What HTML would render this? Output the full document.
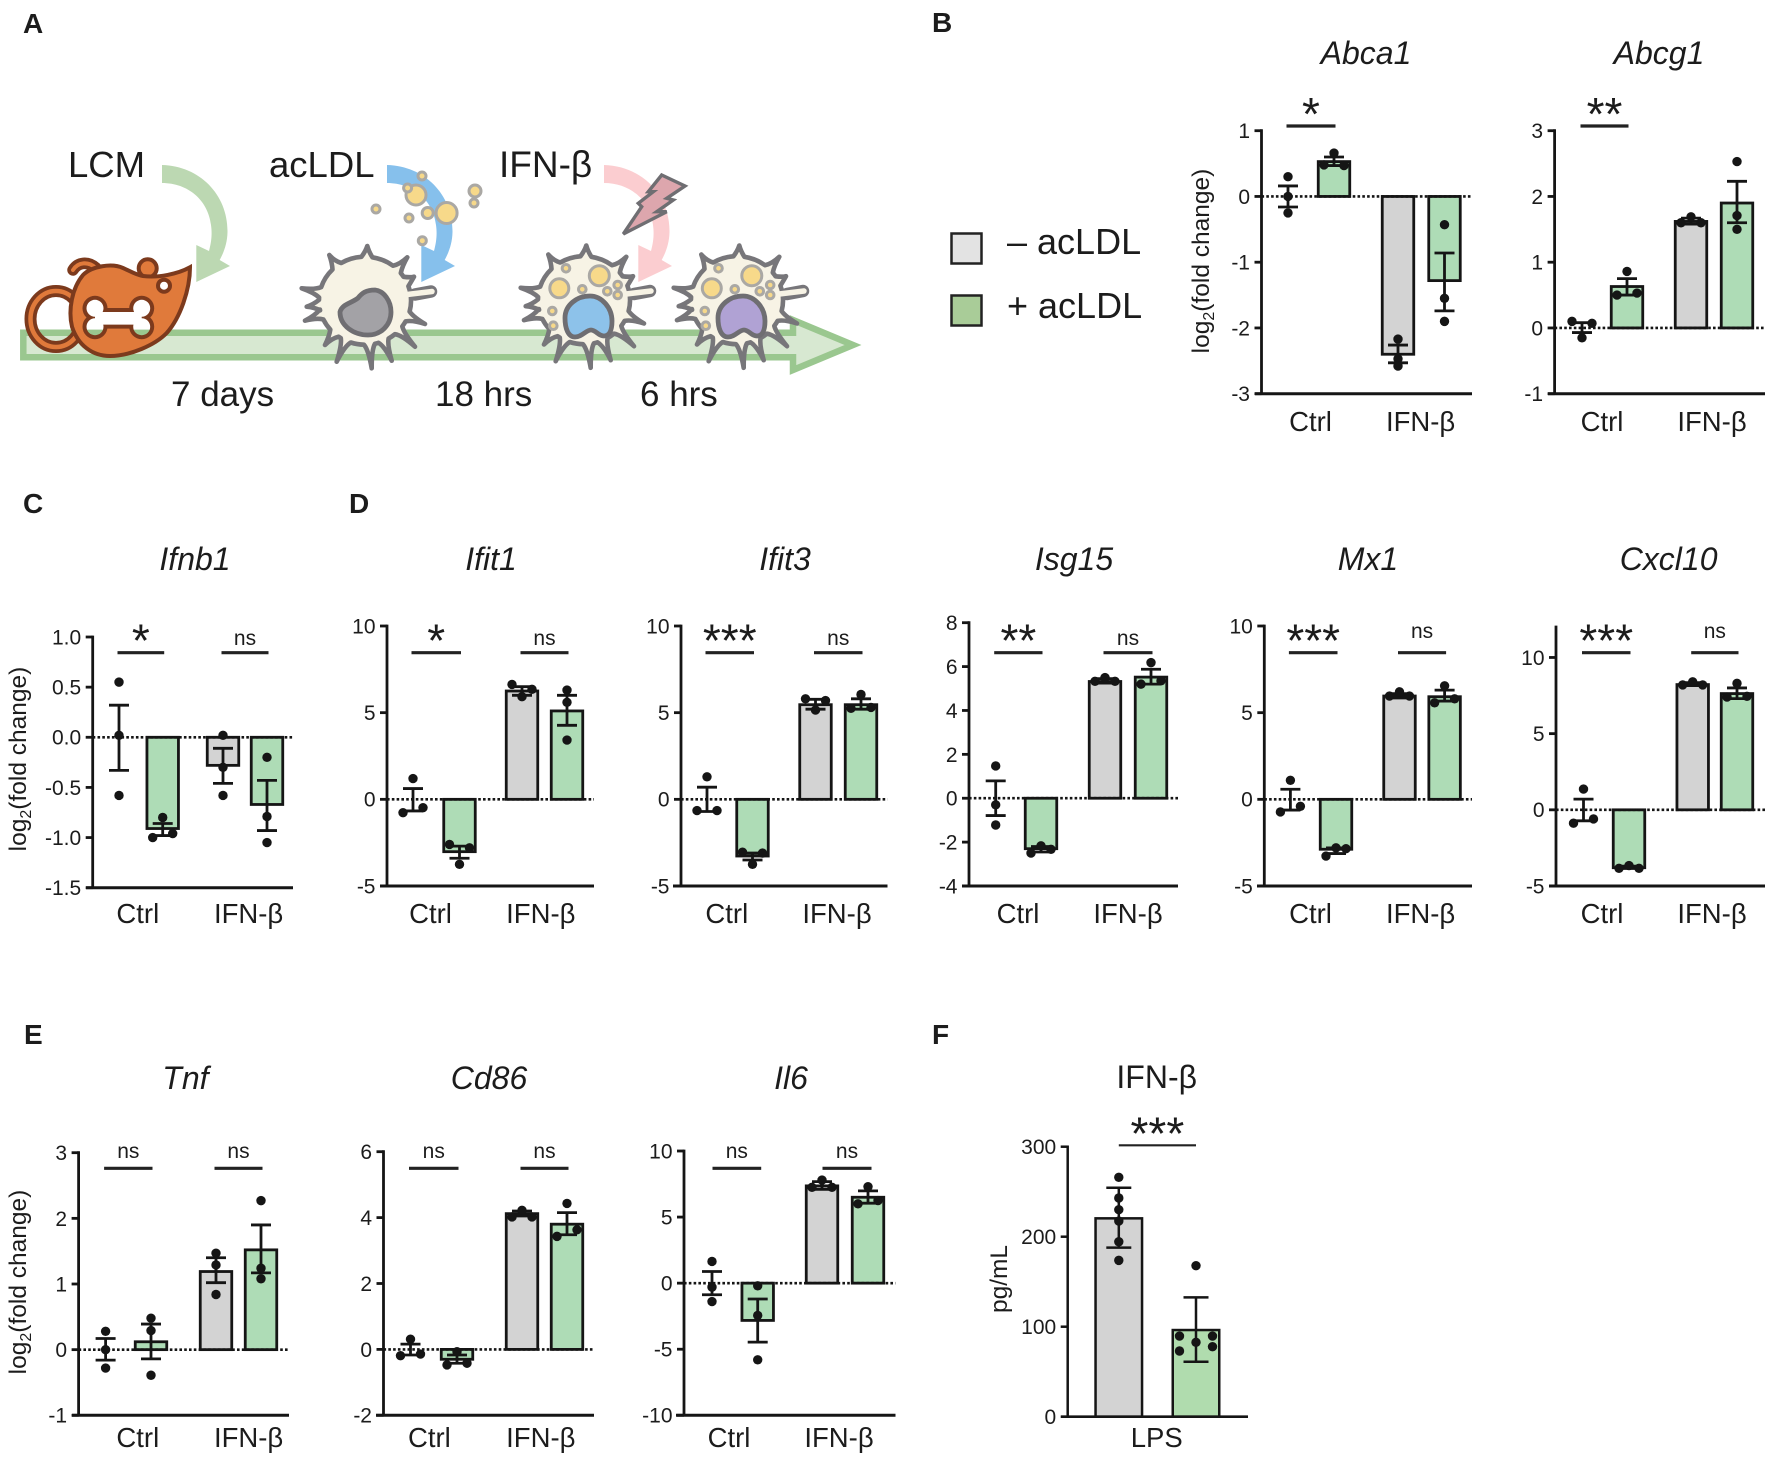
<!DOCTYPE html>
<html lang="en">
<head>
<meta charset="utf-8">
<title>acLDL and IFN-β gene expression figure</title>
<style>
html,body{margin:0;padding:0;background:#fff;}
svg{display:block;}
text{font-family:"Liberation Sans",Arial,sans-serif;fill:#1c1c1c;}
</style>
</head>
<body>
<svg id="figure" xmlns="http://www.w3.org/2000/svg" width="1772" height="1460" viewBox="0 0 1772 1460">
  <defs>
    <clipPath id="bone-clip">
      <circle cx="95" cy="308.3" r="8.5"/><circle cx="95" cy="326.7" r="8.5"/>
      <circle cx="141.7" cy="308.3" r="8.5"/><circle cx="141.7" cy="326.7" r="8.5"/>
      <rect x="95" y="312" width="46.7" height="12.6"/>
    </clipPath>
  </defs>
  <rect width="1772" height="1460" fill="#fff"/>
  <g font-weight="bold" font-size="28">
    <text x="23" y="33">A</text>
    <text x="932" y="32">B</text>
    <text x="23" y="513">C</text>
    <text x="349" y="513">D</text>
    <text x="24" y="1044">E</text>
    <text x="932" y="1044">F</text>
  </g>

  <g id="schematic">
    <polygon points="23.3,332.7 793,332.7 793,320 853,345 793,370 793,357.3 23.3,357.3" fill="#d7e8d1" stroke="#9ac78f" stroke-width="6.5"/>

    <path d="M162,165 C200,166 228,195 227.5,232 C227.3,243 224,252 219.7,260 L230,266 L196.3,282 L196.3,245 L209,251 C212,240 212,232 211,225 C208,200 188,183 162,183 Z" fill="#bcd8b2"/>
    <path transform="translate(225 0)" d="M162,165 C200,166 228,195 227.5,232 C227.3,243 224,252 219.7,260 L230,266 L196.3,282 L196.3,245 L209,251 C212,240 212,232 211,225 C208,200 188,183 162,183 Z" fill="#86c0ec"/>
    <path transform="translate(442 0)" d="M162,165 C200,166 228,195 227.5,232 C227.3,243 224,252 219.7,260 L230,266 L196.3,282 L196.3,245 L209,251 C212,240 212,232 211,225 C208,200 188,183 162,183 Z" fill="#fbcdd0"/>

    <g>
      <ellipse cx="56" cy="319" rx="25.5" ry="28" fill="none" stroke="#7c3a1d" stroke-width="12"/>
      <ellipse cx="56" cy="319" rx="25.5" ry="28" fill="none" stroke="#e07a3b" stroke-width="4.5"/>
      <path d="M96,268 C88,261 78,262 73,270" fill="none" stroke="#7c3a1d" stroke-width="11.5" stroke-linecap="round"/>
      <path d="M96,268 C88,261 78,262 73,270" fill="none" stroke="#e07a3b" stroke-width="4" stroke-linecap="round"/>
      <circle cx="147.7" cy="268.3" r="9" fill="#e07a3b" stroke="#7c3a1d" stroke-width="4"/>
      <path d="M190,267.3 C190,290 180,318 166.7,333 C155,345 130,356 110,356 C92,356 78,345 72,326.7 C68,310 72,288 83,275 C92,266 112,263 123,268 C130,271 136,275 143,276 C158,278 178,274 190,267.3 Z" fill="#e07a3b" stroke="#7c3a1d" stroke-width="4"/>
      <circle cx="164" cy="285.7" r="6" fill="#fff" stroke="#7c3a1d" stroke-width="4"/>
      <g>
        <g fill="#7c3a1d">
          <circle cx="95" cy="308.3" r="12.5"/><circle cx="95" cy="326.7" r="12.5"/>
          <circle cx="141.7" cy="308.3" r="12.5"/><circle cx="141.7" cy="326.7" r="12.5"/>
          <rect x="95" y="308" width="46.7" height="20.6"/>
        </g>
        <g clip-path="url(#bone-clip)">
          <rect x="80" y="295" width="80" height="35" fill="#fff"/>
          <rect x="80" y="329.6" width="80" height="10" fill="#9ac78f"/>
        </g>
      </g>
    </g>

    <g>
      <path class="cell-body" fill="#f7f3e5" stroke="#77767a" stroke-width="4.6" stroke-linejoin="round"/>
      <path d="M415,294.5 L431,291.5" fill="none" stroke="#77767a" stroke-width="12.5" stroke-linecap="round"/>
      <path d="M403,295 L432,291.5" fill="none" stroke="#f7f3e5" stroke-width="5.5" stroke-linecap="round"/>
      <path d="M340,312 C342,304 352,303 358,298 C362,293 366,290 375,290 C384,291 391,301 391,312 C391,325 381,335 368,335 C354,335 340,326 340,312 Z" fill="#a3a2a6" stroke="#6f6e72" stroke-width="4.8"/>
    </g>
    <g transform="translate(219 -0.5)">
      <path class="cell-body" fill="#f7f3e5" stroke="#77767a" stroke-width="4.6" stroke-linejoin="round"/>
      <path d="M415,294.5 L431,291.5" fill="none" stroke="#77767a" stroke-width="12.5" stroke-linecap="round"/>
      <path d="M403,295 L432,291.5" fill="none" stroke="#f7f3e5" stroke-width="5.5" stroke-linecap="round"/>
    </g>
    <g transform="translate(372 -0.5)">
      <path class="cell-body" fill="#f7f3e5" stroke="#77767a" stroke-width="4.6" stroke-linejoin="round"/>
      <path d="M415,294.5 L431,291.5" fill="none" stroke="#77767a" stroke-width="12.5" stroke-linecap="round"/>
      <path d="M403,295 L432,291.5" fill="none" stroke="#f7f3e5" stroke-width="5.5" stroke-linecap="round"/>
    </g>
    <path d="M565,318 C565,305 577,296 590,296 C602,296 612,308 612,321 C612,331 609,336 604,336 C598,336 596,330 591,330 C586,330 582,337 575,337 C568,337 565,328 565,318Z" fill="#8dc2ea" stroke="#6f6e72" stroke-width="4.8"/>
    <path transform="translate(153 0)" d="M565,318 C565,305 577,296 590,296 C602,296 612,308 612,321 C612,331 609,336 604,336 C598,336 596,330 591,330 C586,330 582,337 575,337 C568,337 565,328 565,318Z" fill="#b0a2d4" stroke="#6f6e72" stroke-width="4.8"/>

    <g fill="#f7d98a" stroke="#aaa8a4" stroke-width="3">
      <circle cx="422" cy="176" r="4"/><circle cx="416" cy="195" r="10"/><circle cx="407.6" cy="188" r="4"/>
      <circle cx="446.6" cy="213" r="10.5"/><circle cx="427.7" cy="213" r="5.5"/><circle cx="475" cy="191" r="6"/>
      <circle cx="474" cy="203" r="4"/><circle cx="376" cy="209" r="4"/><circle cx="409" cy="218" r="4"/>
      <circle cx="422.3" cy="240.7" r="4"/>
    </g>
    <g fill="#f7d98a" stroke="#aaa8a4" stroke-width="3">
      <circle cx="559.3" cy="288.3" r="9.5"/><circle cx="599.3" cy="275.7" r="10"/><circle cx="566" cy="268.3" r="3.8"/>
      <circle cx="582.3" cy="289.3" r="3.8"/><circle cx="617.7" cy="285" r="3.8"/><circle cx="607.3" cy="291.3" r="3.8"/>
      <circle cx="617.7" cy="295" r="3.8"/><circle cx="552.3" cy="311" r="3.8"/><circle cx="553.3" cy="325.7" r="3.8"/>
    </g>
    <g transform="translate(152.5 0)" fill="#f7d98a" stroke="#aaa8a4" stroke-width="3">
      <circle cx="559.3" cy="288.3" r="9.5"/><circle cx="599.3" cy="275.7" r="10"/><circle cx="566" cy="268.3" r="3.8"/>
      <circle cx="582.3" cy="289.3" r="3.8"/><circle cx="617.7" cy="285" r="3.8"/><circle cx="607.3" cy="291.3" r="3.8"/>
      <circle cx="617.7" cy="295" r="3.8"/><circle cx="552.3" cy="311" r="3.8"/><circle cx="553.3" cy="325.7" r="3.8"/>
    </g>
    <polygon points="661.7,175 685,186 666.7,198.3 673.3,200 656.7,211.7 666.7,211.7 623.3,234 641.7,206.7 638.3,203.3 653.3,191.7 648.3,191.7" fill="#dda6ad" stroke="#6f6e72" stroke-width="3.4" stroke-linejoin="miter"/>

    <g font-size="36.5">
      <text x="68" y="177">LCM</text>
      <text x="269" y="177">acLDL</text>
      <text x="499" y="177" font-size="37">IFN-β</text>
      <text x="171" y="406" font-size="35">7 days</text>
      <text x="435" y="406" font-size="35">18 hrs</text>
      <text x="640" y="406" font-size="35">6 hrs</text>
    </g>
  </g>

  <g>
    <rect x="951.5" y="233.5" width="30" height="30" fill="#e3e3e3" stroke="#222" stroke-width="2.5"/>
    <text x="1007" y="254" font-size="36">– acLDL</text>
    <rect x="951.5" y="295.5" width="30" height="30" fill="#a9cc98" stroke="#222" stroke-width="2.5"/>
    <text x="1007" y="318" font-size="36">+ acLDL</text>
  </g>

  <g id="charts"></g>
</svg>

<script>
// ---------- data ----------
const categories = ['Ctrl', 'IFN-β'];
const lpsCategories = ['LPS'];

const abca1Ticks = [-3, -2, -1, 0, 1];
const abca1Means = [0, 0.53, -2.4, -1.28];
const abca1ErrHi = [0.16, 0.6, -2.26, -0.86];
const abca1ErrLo = [-0.16, 0.47, -2.53, -1.74];
const abca1Dots = [[0.3, 0, -0.25], [0.66, 0.48, 0.47], [-2.17, -2.47, -2.58], [-0.43, -1.55, -1.9]];
const abca1Sides = [[0, 0, 0], [0, -1, 1], [0, 0, 0], [0, 0, 0]];
const abca1Sig = ['*', ''];

const abcg1Ticks = [-1, 0, 1, 2, 3];
const abcg1Means = [0, 0.63, 1.62, 1.9];
const abcg1ErrHi = [0.08, 0.75, 1.67, 2.23];
const abcg1ErrLo = [-0.07, 0.5, 1.58, 1.6];
const abcg1Dots = [[-0.15, 0.1, 0.07], [0.86, 0.5, 0.53], [1.69, 1.6, 1.6], [2.53, 1.71, 1.5]];
const abcg1Sides = [[0, -1, 1], [0, -1, 1], [0, -1, 1], [0, 0, 0]];
const abcg1Sig = ['**', ''];

const ifnb1Ticks = [-1.5, -1.0, -0.5, 0.0, 0.5, 1.0];
const ifnb1Means = [0, -0.91, -0.28, -0.67];
const ifnb1ErrHi = [0.32, -0.86, -0.11, -0.43];
const ifnb1ErrLo = [-0.33, -0.98, -0.46, -0.93];
const ifnb1Dots = [[0.55, 0.02, -0.58], [-0.8, -1.0, -0.96], [0.02, -0.3, -0.58], [-0.2, -0.79, -1.05]];
const ifnb1Sides = [[0, 0, 0], [0, -1, 1], [0, 0, 0], [0, 0, 0]];
const ifnb1Sig = ['*', 'ns'];

const ifit1Ticks = [-5, 0, 5, 10];
const ifit1Means = [0, -3.02, 6.25, 5.1];
const ifit1ErrHi = [0.62, -2.7, 6.5, 6];
const ifit1ErrLo = [-0.67, -3.4, 6, 4.27];
const ifit1Dots = [[1.2, -0.48, -0.77], [-3.75, -2.6, -2.8], [5.92, 6.63, 6.35], [6.3, 5.6, 3.42]];
const ifit1Sides = [[0, 1, -1], [0, -1, 1], [0, -1, 1], [0, 0, 0]];
const ifit1Sig = ['*', 'ns'];

const ifit3Ticks = [-5, 0, 5, 10];
const ifit3Means = [0, -3.27, 5.46, 5.46];
const ifit3ErrHi = [0.7, -3.1, 5.77, 5.8];
const ifit3ErrLo = [-0.7, -3.5, 5.2, 5.2];
const ifit3Dots = [[1.3, -0.65, -0.65], [-3.75, -3.05, -3.1], [5.15, 5.8, 5.7], [6.05, 5.25, 5.3]];
const ifit3Sides = [[0, -1, 1], [0, -1, 1], [0, -1, 1], [0, -1, 1]];
const ifit3Sig = ['***', 'ns'];

const isg15Ticks = [-4, -2, 0, 2, 4, 6, 8];
const isg15Means = [0, -2.3, 5.32, 5.52];
const isg15ErrHi = [0.79, -2.2, 5.45, 5.88];
const isg15ErrLo = [-0.79, -2.45, 5.25, 5.2];
const isg15Dots = [[1.47, -0.3, -1.22], [-2.17, -2.33, -2.5], [5.5, 5.33, 5.33], [6.18, 5.2, 5.35]];
const isg15Sides = [[0, 0, 0], [0, 1, -1], [0, -1, 1], [0, -1, 1]];
const isg15Sig = ['**', 'ns'];

const mx1Ticks = [-5, 0, 5, 10];
const mx1Means = [0, -2.88, 5.96, 5.92];
const mx1ErrHi = [0.58, -2.8, 6.1, 6.3];
const mx1ErrLo = [-0.62, -3.13, 5.85, 5.67];
const mx1Dots = [[1.1, -0.4, -0.73], [-2.8, -2.85, -3.27], [6.2, 5.96, 5.96], [6.55, 5.57, 5.8]];
const mx1Sides = [[0, 1, -1], [0, 1, -1], [0, -1, 1], [0, -1, 1]];
const mx1Sig = ['***', 'ns'];

const cxcl10Ticks = [-5, 0, 5, 10];
const cxcl10Domain = [-5, 12];
const cxcl10Means = [0, -3.8, 8.22, 7.63];
const cxcl10ErrHi = [0.7, -3.7, 8.35, 8];
const cxcl10ErrLo = [-0.72, -3.85, 8.15, 7.3];
const cxcl10Dots = [[1.36, -0.6, -0.88], [-3.66, -3.84, -3.84], [8.4, 8.2, 8.2], [8.3, 7.4, 7.45]];
const cxcl10Sides = [[0, 1, -1], [0, -1, 1], [0, -1, 1], [0, -1, 1]];
const cxcl10Sig = ['***', 'ns'];

const tnfTicks = [-1, 0, 1, 2, 3];
const tnfMeans = [0, 0.12, 1.19, 1.52];
const tnfErrHi = [0.17, 0.39, 1.4, 1.9];
const tnfErrLo = [-0.16, -0.14, 1.02, 1.17];
const tnfDots = [[0.28, 0, -0.28], [0.48, 0.29, -0.39], [1.47, 1.29, 0.84], [2.27, 1.24, 1.08]];
const tnfSides = [[0, 0, 0], [0, 0, 0], [0, 0, 0], [0, 0, 0]];
const tnfSig = ['ns', 'ns'];

const cd86Ticks = [-2, 0, 2, 4, 6];
const cd86Means = [0, -0.3, 4.12, 3.8];
const cd86ErrHi = [0.16, -0.17, 4.2, 4.15];
const cd86ErrLo = [-0.17, -0.42, 4.05, 3.48];
const cd86Dots = [[0.31, -0.19, -0.14], [-0.07, -0.47, -0.42], [4.22, 4.02, 4.02], [4.43, 3.43, 3.63]];
const cd86Sides = [[0, -1, 1], [0, -1, 1], [0, -1, 1], [0, -1, 1]];
const cd86Sig = ['ns', 'ns'];

const il6Ticks = [-10, -5, 0, 5, 10];
const il6Means = [0, -2.82, 7.36, 6.5];
const il6ErrHi = [0.88, -1.2, 7.68, 6.98];
const il6ErrLo = [-0.88, -4.46, 7.1, 6.05];
const il6Dots = [[1.64, -0.3, -1.39], [-0.2, -2.44, -5.8], [7.8, 7.25, 7.25], [7.3, 6, 6.25]];
const il6Sides = [[0, 0, 0], [0, 0, 0], [0, -1, 1], [0, -1, 1]];
const il6Sig = ['ns', 'ns'];

const lpsTicks = [0, 100, 200, 300];
const lpsMeans = [220.4, 96.3];
const lpsErrHi = [254.4, 132.6];
const lpsErrLo = [187.8, 61];
const lpsDots = [[266, 243, 230, 217.4, 194.4, 173.7], [167.8, 89.6, 89.6, 82.6, 77.8, 73]];
const lpsSides = [[0, 0, 0, 0, 0, 0], [0, -1, 1, 0, 1, -1]];
const lpsSig = ['***'];

// ---------- layout (pixels, not data) ----------
const charts = [
  {id:'abca1', title:'Abca1', tx:1366, ty:64, ticks:abca1Ticks, means:abca1Means, hi:abca1ErrHi, lo:abca1ErrLo, dots:abca1Dots, sides:abca1Sides, sig:abca1Sig, ax:1261.5, top:130.7, bot:393.7, xs:1255, xe:1472, bx:[1288,1334,1398,1444.5], cats:categories, lx:[1310.5,1420.6], ly:431, sy:126, ny:0},
  {id:'abcg1', title:'Abcg1', tx:1659, ty:64, ticks:abcg1Ticks, means:abcg1Means, hi:abcg1ErrHi, lo:abcg1ErrLo, dots:abcg1Dots, sides:abcg1Sides, sig:abcg1Sig, ax:1554.6, top:130.7, bot:393.7, xs:1548, xe:1765, bx:[1582,1627,1691,1737], cats:categories, lx:[1602,1712], ly:431, sy:126, ny:0},
  {id:'ifnb1', title:'Ifnb1', tx:195, ty:570, ticks:ifnb1Ticks, means:ifnb1Means, hi:ifnb1ErrHi, lo:ifnb1ErrLo, dots:ifnb1Dots, sides:ifnb1Sides, sig:ifnb1Sig, ax:92.7, top:637, bot:887.7, xs:86, xe:293, bx:[119,162.7,223,267], cats:categories, lx:[137.8,248.6], ly:923, sy:652.7, ny:645},
  {id:'ifit1', title:'Ifit1', tx:491, ty:570, ticks:ifit1Ticks, means:ifit1Means, hi:ifit1ErrHi, lo:ifit1ErrLo, dots:ifit1Dots, sides:ifit1Sides, sig:ifit1Sig, ax:387, top:626, bot:886, xs:380, xe:594, bx:[413,459.5,522,567], cats:categories, lx:[430.5,540.8], ly:923, sy:652.7, ny:645},
  {id:'ifit3', title:'Ifit3', tx:785, ty:570, ticks:ifit3Ticks, means:ifit3Means, hi:ifit3ErrHi, lo:ifit3ErrLo, dots:ifit3Dots, sides:ifit3Sides, sig:ifit3Sig, ax:681, top:626, bot:886, xs:673, xe:887.5, bx:[707,752.5,815.5,861], cats:categories, lx:[726.8,837], ly:923, sy:652.7, ny:645},
  {id:'isg15', title:'Isg15', tx:1074, ty:570, ticks:isg15Ticks, means:isg15Means, hi:isg15ErrHi, lo:isg15ErrLo, dots:isg15Dots, sides:isg15Sides, sig:isg15Sig, ax:969, top:622.7, bot:886, xs:962, xe:1178, bx:[995.7,1041,1105,1151], cats:categories, lx:[1018,1128], ly:923, sy:652.7, ny:645},
  {id:'mx1', title:'Mx1', tx:1368, ty:570, ticks:mx1Ticks, means:mx1Means, hi:mx1ErrHi, lo:mx1ErrLo, dots:mx1Dots, sides:mx1Sides, sig:mx1Sig, ax:1264.3, top:626, bot:886, xs:1257, xe:1472, bx:[1290.4,1336,1399.5,1444.6], cats:categories, lx:[1310.5,1420.6], ly:923, sy:652.7, ny:638},
  {id:'cxcl10', title:'Cxcl10', tx:1668.6, ty:570, ticks:cxcl10Ticks, domain:cxcl10Domain, means:cxcl10Means, hi:cxcl10ErrHi, lo:cxcl10ErrLo, dots:cxcl10Dots, sides:cxcl10Sides, sig:cxcl10Sig, ax:1556, top:627, bot:886, xs:1549, xe:1765, bx:[1583.5,1629,1692.7,1737], cats:categories, lx:[1602,1712], ly:923, sy:652.7, ny:638},
  {id:'tnf', title:'Tnf', tx:185.4, ty:1089, ticks:tnfTicks, means:tnfMeans, hi:tnfErrHi, lo:tnfErrLo, dots:tnfDots, sides:tnfSides, sig:tnfSig, ax:78.6, top:1152.7, bot:1415.3, xs:72, xe:289, bx:[105.6,151,216,261], cats:categories, lx:[137.8,248.6], ly:1447, sy:1168.3, ny:1158},
  {id:'cd86', title:'Cd86', tx:489, ty:1089, ticks:cd86Ticks, means:cd86Means, hi:cd86ErrHi, lo:cd86ErrLo, dots:cd86Dots, sides:cd86Sides, sig:cd86Sig, ax:383.5, top:1151.7, bot:1415.3, xs:376, xe:594, bx:[410.5,457,522,567], cats:categories, lx:[429.4,540.8], ly:1447, sy:1168.3, ny:1158},
  {id:'il6', title:'Il6', tx:791, ty:1089, ticks:il6Ticks, means:il6Means, hi:il6ErrHi, lo:il6ErrLo, dots:il6Dots, sides:il6Sides, sig:il6Sig, ax:684, top:1151, bot:1415.3, xs:676, xe:895.5, bx:[712,757.7,822,868], cats:categories, lx:[729,839], ly:1447, sy:1168.3, ny:1158, sx:2},
  {id:'lps', title:'IFN-β', upright:true, tx:1156.7, ty:1088, ticks:lpsTicks, means:lpsMeans, hi:lpsErrHi, lo:lpsErrLo, dots:lpsDots, sides:lpsSides, sig:lpsSig, ax:1067.7, top:1146.7, bot:1416.7, xs:1061, xe:1248, bx:[1118.8,1196], cats:lpsCategories, lx:[1156.7], ly:1447, sy:1145.3, ny:0, barW:46.5, spread:16.5, capW:25, sigW:2.2, lw:2.5, sigPad:0}
];
const barFills = ['#d3d3d3', '#aedcb6', '#d3d3d3', '#aedcb6'];
const lpsFills = ['#d3d3d3', '#b0dcae'];
const INK = '#151515';
const NS = 'http://www.w3.org/2000/svg';

function mk(tag, attrs, parent) {
  const el = document.createElementNS(NS, tag);
  for (const k in attrs) el.setAttribute(k, attrs[k]);
  parent.appendChild(el);
  return el;
}

function drawChart(c) {
  const root = document.getElementById('charts');
  const g = mk('g', {}, root);
  
  

  const dom = c.domain || [c.ticks[0], c.ticks[c.ticks.length - 1]];
  const y = v => c.bot - (v - dom[0]) / (dom[1] - dom[0]) * (c.bot - c.top);
  const x = i => c.bx[i];
  const barW = c.barW || 31.5;
  const spread = c.spread || 10;
  const capHalf = (c.capW || 20) / 2;
  const lw = c.lw || 2.8;
  const fills = c.means.length === 2 ? lpsFills : barFills;

  const title = mk('text', {x: c.tx, y: c.ty, 'text-anchor': 'middle', 'font-size': 32, 'font-style': c.upright ? 'normal' : 'italic'}, g);
  title.textContent = c.title;
  
  

  c.means.forEach((m, i) => {
    const y0 = y(Math.max(0, dom[0]));
    const ym = y(m);
    if (Math.abs(ym - y0) > 1) {
      const bar = mk('rect', {x: x(i) - barW / 2, y: Math.min(ym, y0), width: barW, height: Math.abs(ym - y0), fill: fills[i], stroke: INK, 'stroke-width': lw}, g);
      
      
    }
  });

  if (dom[0] < 0) {
    const zero = mk('line', {x1: c.ax, x2: c.xe, y1: y(0), y2: y(0), stroke: INK, 'stroke-width': 2.6, 'stroke-dasharray': '2.6 2.2'}, g);
    
    
  }

  const yAxis = mk('line', {x1: c.ax, x2: c.ax, y1: c.top - lw / 2, y2: c.bot, stroke: INK, 'stroke-width': lw}, g);
  
  
  const xAxis = mk('line', {x1: c.xs, x2: c.xe, y1: c.bot, y2: c.bot, stroke: INK, 'stroke-width': lw + 0.2}, g);
  
  

  c.ticks.forEach(t => {
    const mark = mk('line', {x1: c.ax - 7, x2: c.ax, y1: y(t), y2: y(t), stroke: INK, 'stroke-width': lw}, g);
    
    
    const label = mk('text', {x: c.ax - 11.5, y: y(t) + 7.4, 'text-anchor': 'end', 'font-size': 21}, g);
    label.textContent = Number.isInteger(t) && c.id !== 'ifnb1' ? String(t) : t.toFixed(1);
    
    
  });

  c.cats.forEach((cat, i) => {
    const label = mk('text', {x: c.lx[i], y: c.ly, 'text-anchor': 'middle', 'font-size': 27.5}, g);
    label.textContent = cat;
    
    
  });

  c.means.forEach((m, i) => {
    const whisker = mk('line', {x1: x(i), x2: x(i), y1: y(c.hi[i]), y2: y(c.lo[i]), stroke: INK, 'stroke-width': lw}, g);
    
    
    [c.hi[i], c.lo[i]].forEach(v => {
      const cap = mk('line', {x1: x(i) - capHalf, x2: x(i) + capHalf, y1: y(v), y2: y(v), stroke: INK, 'stroke-width': lw}, g);
      
      
    });
    c.dots[i].forEach((v, j) => {
      const dot = mk('circle', {cx: x(i) + c.sides[i][j] * spread, cy: y(v), r: 4.7, fill: INK}, g);
      
      
    });
  });

  c.sig.forEach((s, k) => {
    if (!s) return;
    const pad = c.sigPad === undefined ? 1.5 : c.sigPad;
    const shift = c.sx || 0;
    const a = x(k * 2) - pad + shift, b = x(k * 2 + 1) + pad + shift;
    const line = mk('line', {x1: a, x2: b, y1: c.sy, y2: c.sy, stroke: '#222', 'stroke-width': c.sigW || 3.2}, g);
    
    
    const isNs = s === 'ns';
    const label = mk('text', {x: (a + b) / 2, y: isNs ? c.ny : c.sy + 4, 'text-anchor': 'middle', 'font-size': isNs ? 21 : 46}, g);
    label.textContent = s;
    
    
  });
}
charts.forEach(drawChart);

// rotated y axis titles
const yTitles = [[1209, 261], [26, 759], [26, 1282]];
yTitles.forEach((p, i) => {
  const t = mk('text', {x: p[0], y: p[1], 'text-anchor': 'middle', 'font-size': 24.5, transform: 'rotate(-90 ' + p[0] + ' ' + p[1] + ')'}, document.getElementById('charts'));
  
  
  const a = mk('tspan', {}, t);
  a.textContent = 'log';
  const s = mk('tspan', {'font-size': 16, dy: 5}, t);
  s.textContent = '2';
  const r = mk('tspan', {dy: -5}, t);
  r.textContent = '(fold change)';
});
const pgTitle = mk('text', {x: 1007, y: 1279, 'text-anchor': 'middle', 'font-size': 24.5, transform: 'rotate(-90 1007 1279)'}, document.getElementById('charts'));
pgTitle.textContent = 'pg/mL';



// macrophage outline shared by the three cells: thin concave spikes on a round body
(function () {
  const cx = 365, cy = 300.7, Rx = 46, Ry = 44, da = 0.12;
  const tips = [[367.3,246],[329.3,255],[407.3,257.3],[414,276.7],[425,324],[415,346.7],[391.7,360.7],[371.7,368.3],[336.7,361.7],[325,345],[305,320.7],[306.7,306.7],[301.7,288.3]];
  const pt = (a, k) => [cx + Rx * k * Math.cos(a), cy + Ry * k * Math.sin(a)];
  const sorted = tips.map(t => [Math.atan2(t[1] - cy, t[0] - cx), t]).sort((a, b) => a[0] - b[0]);
  let d = '';
  sorted.forEach((s, i) => {
    const a = s[0], t = s[1];
    const p1 = pt(a - da, 1), p2 = pt(a + da, 1), c1 = pt(a - da * 0.25, 1.12), c2 = pt(a + da * 0.25, 1.12);
    d += (i === 0 ? 'M' : 'A' + Rx + ' ' + Ry + ' 0 0 1 ') + p1[0].toFixed(1) + ' ' + p1[1].toFixed(1);
    d += 'Q' + c1[0].toFixed(1) + ' ' + c1[1].toFixed(1) + ' ' + t[0].toFixed(1) + ' ' + t[1].toFixed(1);
    d += 'Q' + c2[0].toFixed(1) + ' ' + c2[1].toFixed(1) + ' ' + p2[0].toFixed(1) + ' ' + p2[1].toFixed(1);
  });
  d += 'A' + Rx + ' ' + Ry + ' 0 0 1 ' + pt(sorted[0][0] - da, 1).map(n => n.toFixed(1)).join(' ') + 'Z';
  document.querySelectorAll('.cell-body').forEach(el => el.setAttribute('d', d));
})();
</script>
</body>
</html>
